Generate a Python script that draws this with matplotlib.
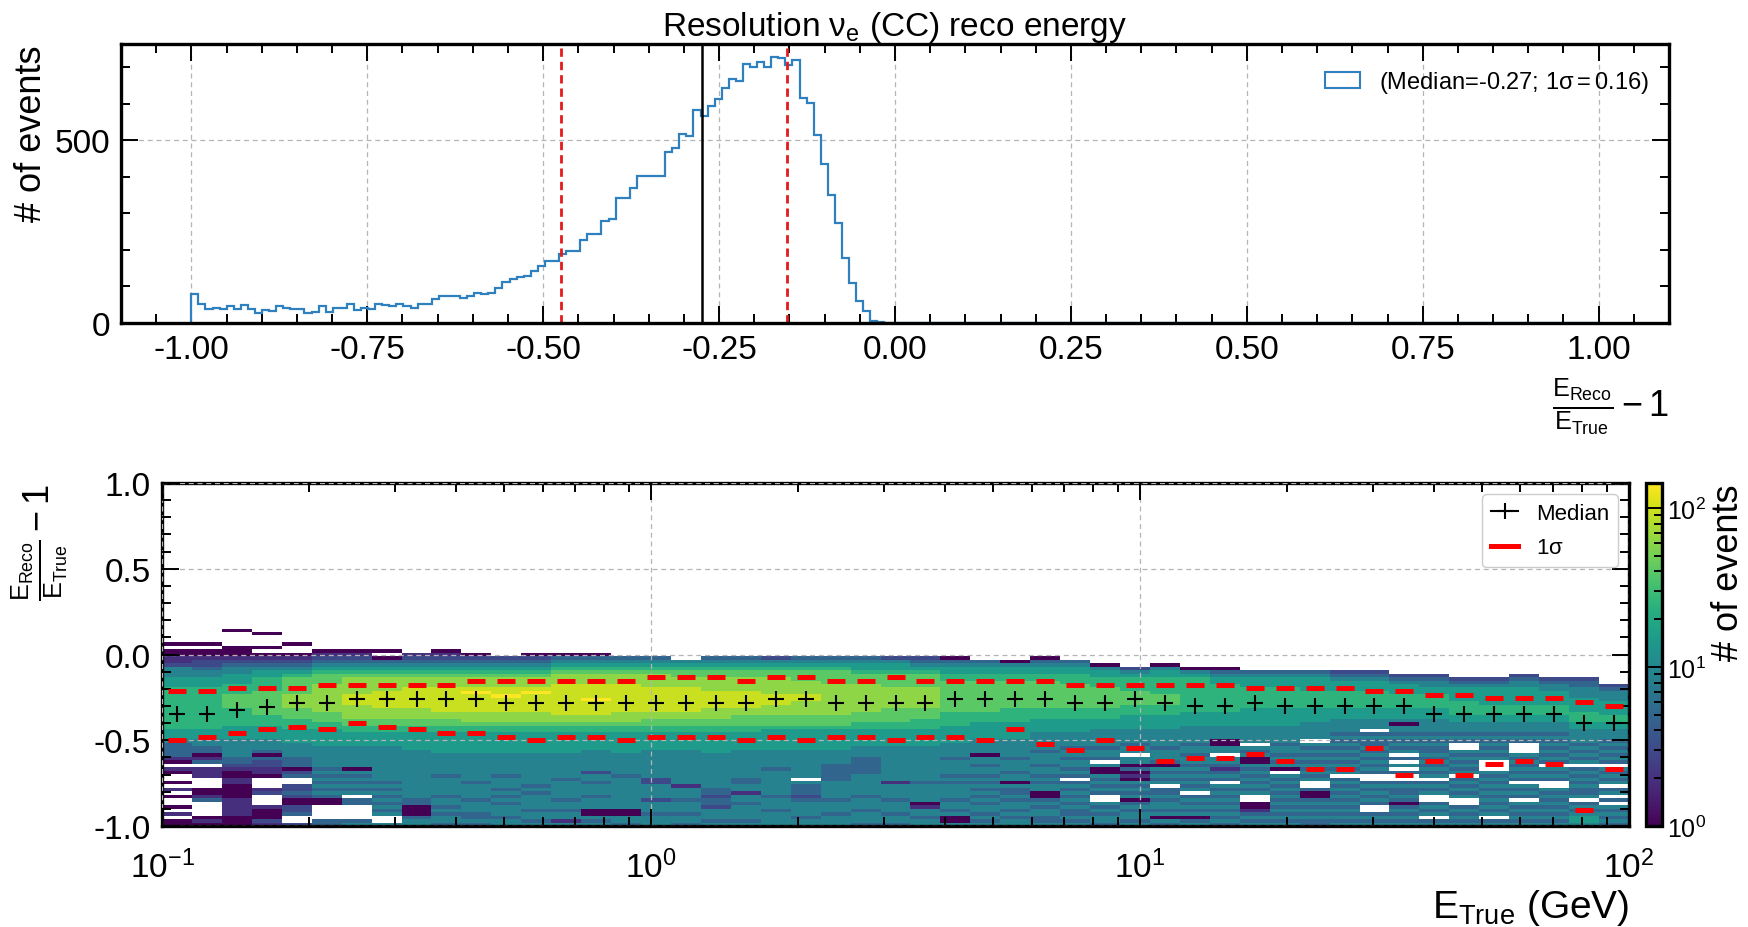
import numpy as np
import matplotlib
matplotlib.use('Agg')
import matplotlib.pyplot as plt
from matplotlib.colors import LogNorm
from matplotlib.lines import Line2D
from matplotlib.patches import Patch
from matplotlib.ticker import MultipleLocator, LogLocator, NullFormatter

plt.rcParams['font.family'] = 'Liberation Sans'
plt.rcParams['mathtext.fontset'] = 'custom'
plt.rcParams['mathtext.rm'] = 'Liberation Sans'
plt.rcParams['mathtext.it'] = 'Liberation Sans:italic'
plt.rcParams['mathtext.bf'] = 'Liberation Sans:bold'
plt.rcParams['mathtext.default'] = 'regular'
plt.rcParams['axes.unicode_minus'] = False

# ---- 1D resolution histogram (E_reco/E_true - 1) ----
reco_edges = np.linspace(-1, 1, 200)
reco_counts = [78, 53, 38, 41, 38, 46, 38, 49, 37, 27,
               35, 32, 46, 41, 38, 37, 26, 31, 46, 31,
               41, 41, 53, 35, 41, 37, 52, 48, 46, 52,
               46, 41, 52, 52, 66, 75, 73, 75, 69, 73,
               82, 78, 82, 96, 112, 119, 127, 128, 142, 156,
               170, 170, 188, 197, 197, 227, 243, 243, 280, 284,
               341, 341, 369, 403, 403, 403, 403, 468, 479, 518,
               511, 584, 567, 594, 614, 642, 668, 662, 708, 700,
               713, 701, 727, 724, 706, 720, 616, 603, 515, 436,
               350, 273, 179, 110, 60, 32, 5, 3]
median_all = -0.274
q16_all = -0.474
q84_all = -0.154

# ---- 2D resolution vs true energy ----
etrue_edges = np.logspace(-1, 2, 50)
res_edges = np.linspace(-1, 1, 100)

median_bins = [-0.345, -0.345, -0.325, -0.305, -0.28, -0.28, -0.26, -0.26, -0.26, -0.26, -0.26, -0.28, -0.28,
               -0.28, -0.28, -0.28, -0.28, -0.28, -0.28, -0.28, -0.26, -0.26, -0.28, -0.28, -0.28, -0.28,
               -0.26, -0.26, -0.26, -0.26, -0.28, -0.28, -0.26, -0.28, -0.30, -0.30, -0.28, -0.30, -0.30,
               -0.30, -0.30, -0.30, -0.345, -0.345, -0.345, -0.345, -0.345, -0.40, -0.40]
q84_bins = [-0.214, -0.214, -0.193, -0.193, -0.193, -0.177, -0.177, -0.177, -0.177, -0.177, -0.154, -0.154, -0.154,
            -0.154, -0.154, -0.154, -0.132, -0.132, -0.132, -0.154, -0.132, -0.132, -0.154, -0.154, -0.132, -0.154,
            -0.154, -0.154, -0.154, -0.154, -0.177, -0.177, -0.177, -0.177, -0.177, -0.177, -0.193, -0.193, -0.193,
            -0.193, -0.214, -0.214, -0.237, -0.237, -0.253, -0.253, -0.253, -0.276, -0.30]
q16_bins = [-0.496, -0.48, -0.457, -0.436, -0.42, -0.436, -0.397, -0.42, -0.436, -0.457, -0.457, -0.48, -0.496,
            -0.48, -0.48, -0.496, -0.48, -0.48, -0.48, -0.496, -0.48, -0.496, -0.48, -0.48, -0.496, -0.48,
            -0.48, -0.496, -0.436, -0.519, -0.558, -0.496, -0.543, -0.62, -0.603, -0.603, -0.581, -0.62, -0.665,
            -0.665, -0.543, -0.704, -0.62, -0.704, -0.64, -0.62, -0.64, -0.908, -0.665]

# bin contents per E_true column, top row (y ~ 0.16) down to y ~ -0.99
# '.' = empty, otherwise a key into level_counts
level_counts = {'0': 1, '1': 2, '2': 3, '3': 5, '4': 9, '5': 15, '6': 25,
                '7': 40, '8': 62, '9': 95, 'A': 144}
columns = [
    ".....0.0" "01124445" "5566666666666655" "54333310.10..0.1" ".0..0.1.00",
    ".....0.0" "01223445" "5566666666666655" "54433013.111...0" "013....010",
    ".0....00" "01234455" "5666777766666555" "5444443321001100" "0011111000",
    "..0...0." "01234556" "6667777777666555" "544430322110...1" "2...100021",
    ".....0.." "01234567" "7777888877766655" "554444333023..22" "3200223..2",
    ".......0" "12345677" "7888888887776655" "5554444443434343" "4300....33",
    ".......0" "12345678" "8888999888877665" "5554444440434343" "4.33....34",
    ".......0" ".0345678" "8889999988877665" "5554444444444343" "4343434..4",
    "........" "12345678" "8899999988877665" "5555444444444444" "4433000344",
    ".......0" "12345678" "8899999998877665" "5555544444434444" "4344343443",
    "........" "02345678" "889A999998887665" "5555544444444344" "4434443343",
    "........" ".2345678" "8899A99998887665" "5555544444434443" "4343444344",
    "........" "02345678" "889A999998887665" "5555544444444434" "3444434434",
    "........" "03456788" "8999999999887665" "5555544444443444" "4434434414",
    "........" "03456788" "89999A9999887665" "5555444444244344" "4344400434",
    "........" ".3456788" "8999999998887665" "5555544444434444" "4444400443",
    "........" ".3456788" "8899999998877665" "5555444444442244" "4424443444",
    "........" "..456778" "8899999998877665" "5555444444444414" "4434443443",
    "........" ".3456778" "8889999988877665" "5555544444444443" "3233244434",
    "........" ".3456778" "8889999988777665" "5555444444443344" "1443444434",
    "........" ".2456778" "8888999888777655" "5555444443444444" "4344434444",
    "........" ".3456777" "8888998888777655" "555544444444.433" "3234444344",
    "........" ".3456777" "7888888888777655" "5555444433333444" "4434443444",
    "........" ".3455677" "7888888887776655" "5554443333344444" "4344434443",
    "........" ".2455677" "7788888877776655" "5554444444444144" "4434443443",
    "........" ".2345677" "7788888877766655" "5554444444444344" "4440144344",
    "........" ".0345566" "7777777776666555" "5544443444434344" "4434434004",
    "........" "..345566" "7777777776665555" "5444404434434343" "4343443434",
    "........" "..045566" "7777777766665555" "5444443444344043" "3434434344",
    "........" ".0345566" "7777777766655554" "4444344434434344" "0034344334",
    "........" "..345566" "6777777766655554" "444344344343.343" "4343433434",
    "........" "...04556" "6677777766655544" "4443443.40043434" "3..4343443",
    "........" "....2456" "6667777666555544" "44344.4403010434" "3403434434",
    "........" "...04556" "6666777666555544" "44434443043434.3" "3434434043",
    "........" "....0456" "6666666665555444" "4434434434343434" ".343434034",
    "........" "....0345" "5666666665555444" "40044.4431343.43" "4343434343",
    "........" ".....345" "5566666655555444" "44.4340043434343" "4..0013434",
    "........" ".....345" "5566666655555444" "4434434340.43434" "3434343434",
    "........" ".....345" "5556666655554444" "4.43434343434..3" "0034343433",
    "........" ".....234" "5556666655544443" "43434343434.3434" "3434343434",
    "........" ".....234" "55566666555444.3" "43343434343..343" "4343..3434",
    "........" "......23" "4555666655540443" "43434.3.4.3..343" "3430343434",
    "........" "......23" "4455666655544443" "434334343434.343" "4..3434.34",
    "........" ".......2" "3455556666554443" "43..4343434.3434" "34..343434",
    "........" ".......2" "3455555666554443" "4343434...434343" "4343434.34",
    "........" "......23" "4455555666554443" "43...43434343.43" "43.4343434",
    "........" ".......2" "3445555666554443" "43434343.4343..4" "3434343434",
    "........" ".......2" "3344455556665544" "44343434.3434343" "34.3434554",
    "........" "........" ".234445555665544" "43434343.43434.3" "4.3.434343",
]

counts_1d = np.zeros(len(reco_edges) - 1)
counts_1d[:len(reco_counts)] = reco_counts

grid = np.full((len(res_edges) - 1, len(etrue_edges) - 1), np.nan)
for i, col in enumerate(columns):
    for t, ch in enumerate(col):
        if ch != '.':
            grid[57 - t, i] = level_counts[ch]

centers = np.sqrt(etrue_edges[:-1] * etrue_edges[1:])

fig = plt.figure(figsize=(17.48, 9.28), dpi=100)
ax1 = fig.add_axes([0.0692, 0.6509, 0.8856, 0.3006])
ax2 = fig.add_axes([0.0927, 0.1088, 0.8392, 0.3696])
cax = fig.add_axes([0.9416, 0.1088, 0.0092, 0.3696])

hist_color = '#2f80be'
grid_kw = dict(color='#b5b5b5', ls=(0, (4, 3)), lw=0.9)

for ax in (ax1, ax2):
    for s in ax.spines.values():
        s.set_linewidth(2.4)
    ax.tick_params(which='both', direction='in', top=True, right=True, width=1.4, labelsize=24, pad=8)
    ax.tick_params(which='major', length=12)
    ax.tick_params(which='minor', length=6.5)
ax2.tick_params(axis='x', which='both', pad=17)

# top panel
ax1.stairs(counts_1d, reco_edges, color=hist_color, lw=1.6)
ax1.axvline(median_all, color='black', lw=1.8)
ax1.axvline(q16_all, color='#e41a1c', lw=2, ls=(0, (3, 1.8)))
ax1.axvline(q84_all, color='#e41a1c', lw=2, ls=(0, (3, 1.8)))
ax1.set_xlim(-1.1, 1.1)
ax1.set_ylim(0, 1.05 * counts_1d.max())
ax1.xaxis.set_major_locator(MultipleLocator(0.25))
ax1.xaxis.set_minor_locator(MultipleLocator(0.05))
ax1.yaxis.set_major_locator(MultipleLocator(500))
ax1.yaxis.set_minor_locator(MultipleLocator(100))
ax1.grid(True, which='major', **grid_kw)
ax1.set_axisbelow(True)
ax1.set_title(r'Resolution $\nu_e$ (CC) reco energy', fontsize=24, pad=6)
ax1.set_ylabel('# of events', fontsize=26, loc='top')
ax1.set_xlabel(r'$\frac{E_{Reco}}{E_{True}} - 1$', fontsize=26, loc='right', labelpad=8)
sigma_all = (q84_all - q16_all) / 2
ax1.legend(handles=[Patch(facecolor='none', edgecolor=hist_color, lw=1.5,
                          label=f'(Median={median_all:.2f}; 1$\\sigma = ${sigma_all:.2f})')],
           loc='upper right', frameon=False, fontsize=17, handlelength=1.5,
           bbox_to_anchor=(1.001, 0.985))

# bottom panel
ax2.set_xscale('log')
mesh = ax2.pcolormesh(etrue_edges, res_edges, np.ma.masked_invalid(grid), cmap='viridis',
                      norm=LogNorm(vmin=1, vmax=np.nanmax(grid)), zorder=1)
ax2.plot(centers, median_bins, '+', color='black', ms=12, mew=1.5, zorder=3)
ax2.plot(centers, q84_bins, '_', color='red', ms=13, mew=3.6, zorder=3)
ax2.plot(centers, q16_bins, '_', color='red', ms=13, mew=3.6, zorder=3)
ax2.set_xlim(0.1, 100)
ax2.set_ylim(-1, 1)
ax2.yaxis.set_major_locator(MultipleLocator(0.5))
ax2.yaxis.set_minor_locator(MultipleLocator(0.1))
ax2.xaxis.set_minor_locator(LogLocator(base=10, subs=np.arange(2, 10)))
ax2.xaxis.set_minor_formatter(NullFormatter())
ax2.set_axisbelow(False)
ax2.grid(True, which='major', **grid_kw)
ax2.set_xlabel(r'$E_{True}$ (GeV)', fontsize=28, loc='right', labelpad=2)
ax2.set_ylabel(r'$\frac{E_{Reco}}{E_{True}} - 1$', fontsize=26, loc='top', labelpad=17)
ax2.legend(handles=[Line2D([], [], color='black', marker='+', ms=12, mew=1.5, lw=1.5, label='Median'),
                    Line2D([], [], color='red', lw=3.6, label=r'1$\sigma$')],
           loc='upper right', fontsize=16, handlelength=1.2, framealpha=1, edgecolor='#cccccc',
           labelspacing=0.6)

cbar = fig.colorbar(mesh, cax=cax)
cbar.outline.set_linewidth(2.4)
cax.tick_params(which='both', direction='in', labelsize=18, width=1.4)
cax.tick_params(which='major', length=11)
cax.tick_params(which='minor', length=6)
cax.set_ylabel('# of events', fontsize=26, loc='top')

fig.savefig('out.png', dpi=100)
